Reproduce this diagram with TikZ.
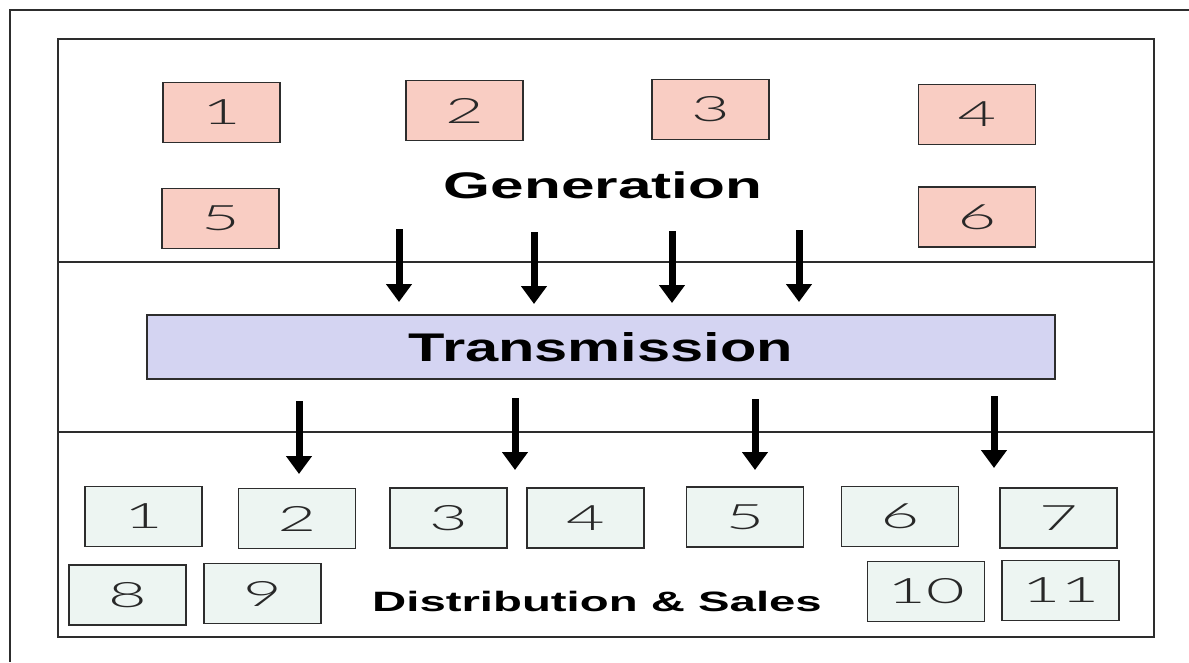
\documentclass[tikz,border=0pt]{standalone}
\usepackage{fontspec}
\setmainfont{Liberation Sans}
\IfFontExistsTF{Lato Light}{\newfontfamily\digitfont{Lato Light}\def\digitscale{1.9}}{\newfontfamily\digitfont{Liberation Sans}\def\digitscale{1.7}}
\usepackage{graphicx}
\usetikzlibrary{arrows.meta}
\definecolor{genfill}{RGB}{249,205,195}
\definecolor{distfill}{RGB}{237,245,242}
\definecolor{transfill}{RGB}{212,212,242}
\definecolor{edgecol}{RGB}{45,45,45}
\definecolor{digitcol}{RGB}{40,40,40}
\newcommand{\wideby}[2]{\scalebox{#1}[1]{#2}}
\newcommand{\dg}[1]{\scalebox{\digitscale}[1]{#1}}
\tikzset{
  framebox/.style={draw=edgecol, line width=1.5pt},
  numbox/.style={draw=edgecol, line width=1.5pt, inner sep=0pt,
    minimum width=117pt, minimum height=60pt, text=digitcol,
    font=\fontsize{35}{35}\selectfont\digitfont},
  genbox/.style={numbox, fill=genfill},
  distbox/.style={numbox, fill=distfill},
  transbox/.style={draw=edgecol, line width=1.5pt, fill=transfill, inner sep=0pt,
    minimum width=908pt, minimum height=64pt,
    font=\fontsize{40}{40}\selectfont\bfseries},
  title/.style={inner sep=0pt, font=\fontsize{37}{37}\selectfont\bfseries},
  subtitle/.style={inner sep=0pt, font=\fontsize{28}{28}\selectfont\bfseries},
  flow/.style={line width=7pt, -{Triangle[width=25pt,length=18pt]}, black}
}
\begin{document}
\begin{tikzpicture}[x=1pt,y=-1pt]
\useasboundingbox[fill=white] (0,0) rectangle (1189,662);
% outer frame
\draw[draw=edgecol, line width=2pt] (1189,10) -- (10,10) -- (10,662);
% inner frame with bands
\draw[framebox] (58,39) rectangle (1154,637);
\draw[framebox] (58,262) -- (1154,262);
\draw[framebox] (58,432) -- (1154,432);
% generation
\node[genbox] (g1) at (221.5,112.5) {\dg{1}};
\node[genbox] (g2) at (464.5,110.5) {\dg{2}};
\node[genbox] (g3) at (710.5,109.5) {\dg{3}};
\node[genbox] (g4) at (977,114.5) {\dg{4}};
\node[genbox] (g5) at (220.5,218.5) {\dg{5}};
\node[genbox] (g6) at (977,217) {\dg{6}};
\node[title] (gen) at (603,185) {\wideby{1.63}{Generation}};
% transmission
\node[transbox] (tr) at (601,347) {\wideby{1.49}{Transmission}};
% distribution
\node[distbox] (d1) at (143.5,516.5) {\dg{1}};
\node[distbox] (d2) at (297,518.5) {\dg{2}};
\node[distbox] (d3) at (448.5,518) {\dg{3}};
\node[distbox] (d4) at (585.5,518) {\dg{4}};
\node[distbox] (d5) at (745,517) {\dg{5}};
\node[distbox] (d6) at (900,516.5) {\dg{6}};
\node[distbox] (d7) at (1058.5,518) {\dg{7}};
\node[distbox] (d8) at (127.5,595) {\dg{8}};
\node[distbox] (d9) at (262.5,593.5) {\dg{9}};
\node[distbox] (d10) at (926,591.5) {\dg{10}};
\node[distbox] (d11) at (1060.5,590.5) {\dg{11}};
\node[subtitle] (dist) at (597,601) {\wideby{1.69}{Distribution \& Sales}};
% arrows generation -> transmission
\coordinate (ua1) at (399,229); \coordinate (ub1) at (399,302);
\coordinate (ua2) at (534,232); \coordinate (ub2) at (534,304);
\coordinate (ua3) at (672,231); \coordinate (ub3) at (672,303);
\coordinate (ua4) at (799,230); \coordinate (ub4) at (799,302);
\foreach \i in {1,...,4} \draw[flow] (ua\i) -- (ub\i);
% arrows transmission -> distribution
\coordinate (la1) at (299,401); \coordinate (lb1) at (299,474);
\coordinate (la2) at (515,398); \coordinate (lb2) at (515,470);
\coordinate (la3) at (755,399); \coordinate (lb3) at (755,470);
\coordinate (la4) at (994,396); \coordinate (lb4) at (994,468);
\foreach \i in {1,...,4} \draw[flow] (la\i) -- (lb\i);
\end{tikzpicture}
\end{document}
